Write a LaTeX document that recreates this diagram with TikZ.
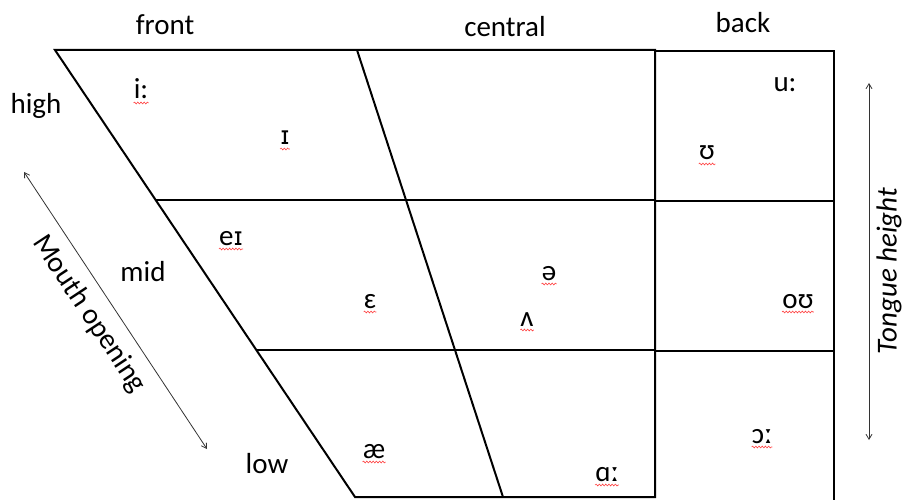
\documentclass[tikz,border=0pt]{standalone}
\usepackage{fontspec}
\setmainfont{Carlito}
\newfontfamily\ipafont{DejaVu Sans}
\newcommand{\smallcapI}{{\ipafont\fontsize{25}{30}\selectfont ɪ}}
\usetikzlibrary{decorations.pathmorphing,arrows.meta}
\begin{document}
\begin{tikzpicture}[x=1pt,y=-1pt,
  lbl/.style={font=\fontsize{29}{34}\selectfont, inner sep=0pt, anchor=base},
  vow/.style={font=\fontsize{29}{34}\selectfont, inner sep=0pt, anchor=base},
  mainline/.style={line width=2pt, line join=miter},
  backline/.style={line width=1.3pt},
  axis/.style={line width=0.8pt, black!80, {Straight Barb[length=5pt,width=6pt]}-{Straight Barb[length=5pt,width=6pt]}},
  squig/.style={red!75, line width=0.6pt, decorate, decoration={snake, amplitude=0.9pt, segment length=3.2pt}}
]
\useasboundingbox (0,0) rectangle (903,500);
% chart
\draw[mainline] (55,50) -- (655,50) -- (655,497) -- (355,497) -- cycle;
\draw[mainline] (357,50) -- (503,497);
\draw[mainline] (156,200) -- (655,200);
\draw[mainline] (256,350) -- (655,350);
\draw[backline] (655,51) -- (834,51) -- (834,500);
\draw[backline] (655,201) -- (834,201);
\draw[backline] (655,351) -- (834,351);
% column / row labels
\node[lbl] (front) at (165,35) {front};
\node[lbl] (central) at (505,37) {central};
\node[lbl] (back) at (743,33) {back};
\node[lbl] (high) at (36,114) {high};
\node[lbl] (mid) at (143,281) {mid};
\node[lbl] (low) at (267,473) {low};
% vowels
\node[vow] (v1) at (141,99) {i:};
\node[vow] (v2) at (285,145) {\smallcapI};
\node[vow] (v3) at (231,245) {e\smallcapI};
\node[vow] (v4) at (370,308) {ɛ};
\node[vow] (v5) at (374,458) {æ};
\node[vow] (v6) at (549,280) {ə};
\node[vow] (v7) at (527,326) {ʌ};
\node[vow] (v8) at (607,481) {ɑː};
\node[vow] (v9) at (785,92) {u:};
\node[vow] (v10) at (707,160) {ʊ};
\node[vow] (v11) at (798,308) {oʊ};
\node[vow] (v12) at (762,443) {ɔː};
\foreach \v in {v1,v2,v3,v4,v5,v6,v7,v8,v10,v11,v12}
  \draw[squig] ([yshift=-4pt]\v.base west) -- ([yshift=-4pt]\v.base east);
% axes
\coordinate (m1) at (24,172);
\coordinate (m2) at (207,449);
\draw[axis] (m1) -- (m2);
\node[lbl, anchor=center, rotate=-56.5] (mo) at (89,314) {Mouth opening};
\coordinate (t1) at (869,83);
\coordinate (t2) at (869,440);
\draw[axis] (t1) -- (t2);
\node[lbl, anchor=center, rotate=90, font=\fontsize{29}{34}\selectfont\itshape] (th) at (889,271) {Tongue height};
\end{tikzpicture}
\end{document}
